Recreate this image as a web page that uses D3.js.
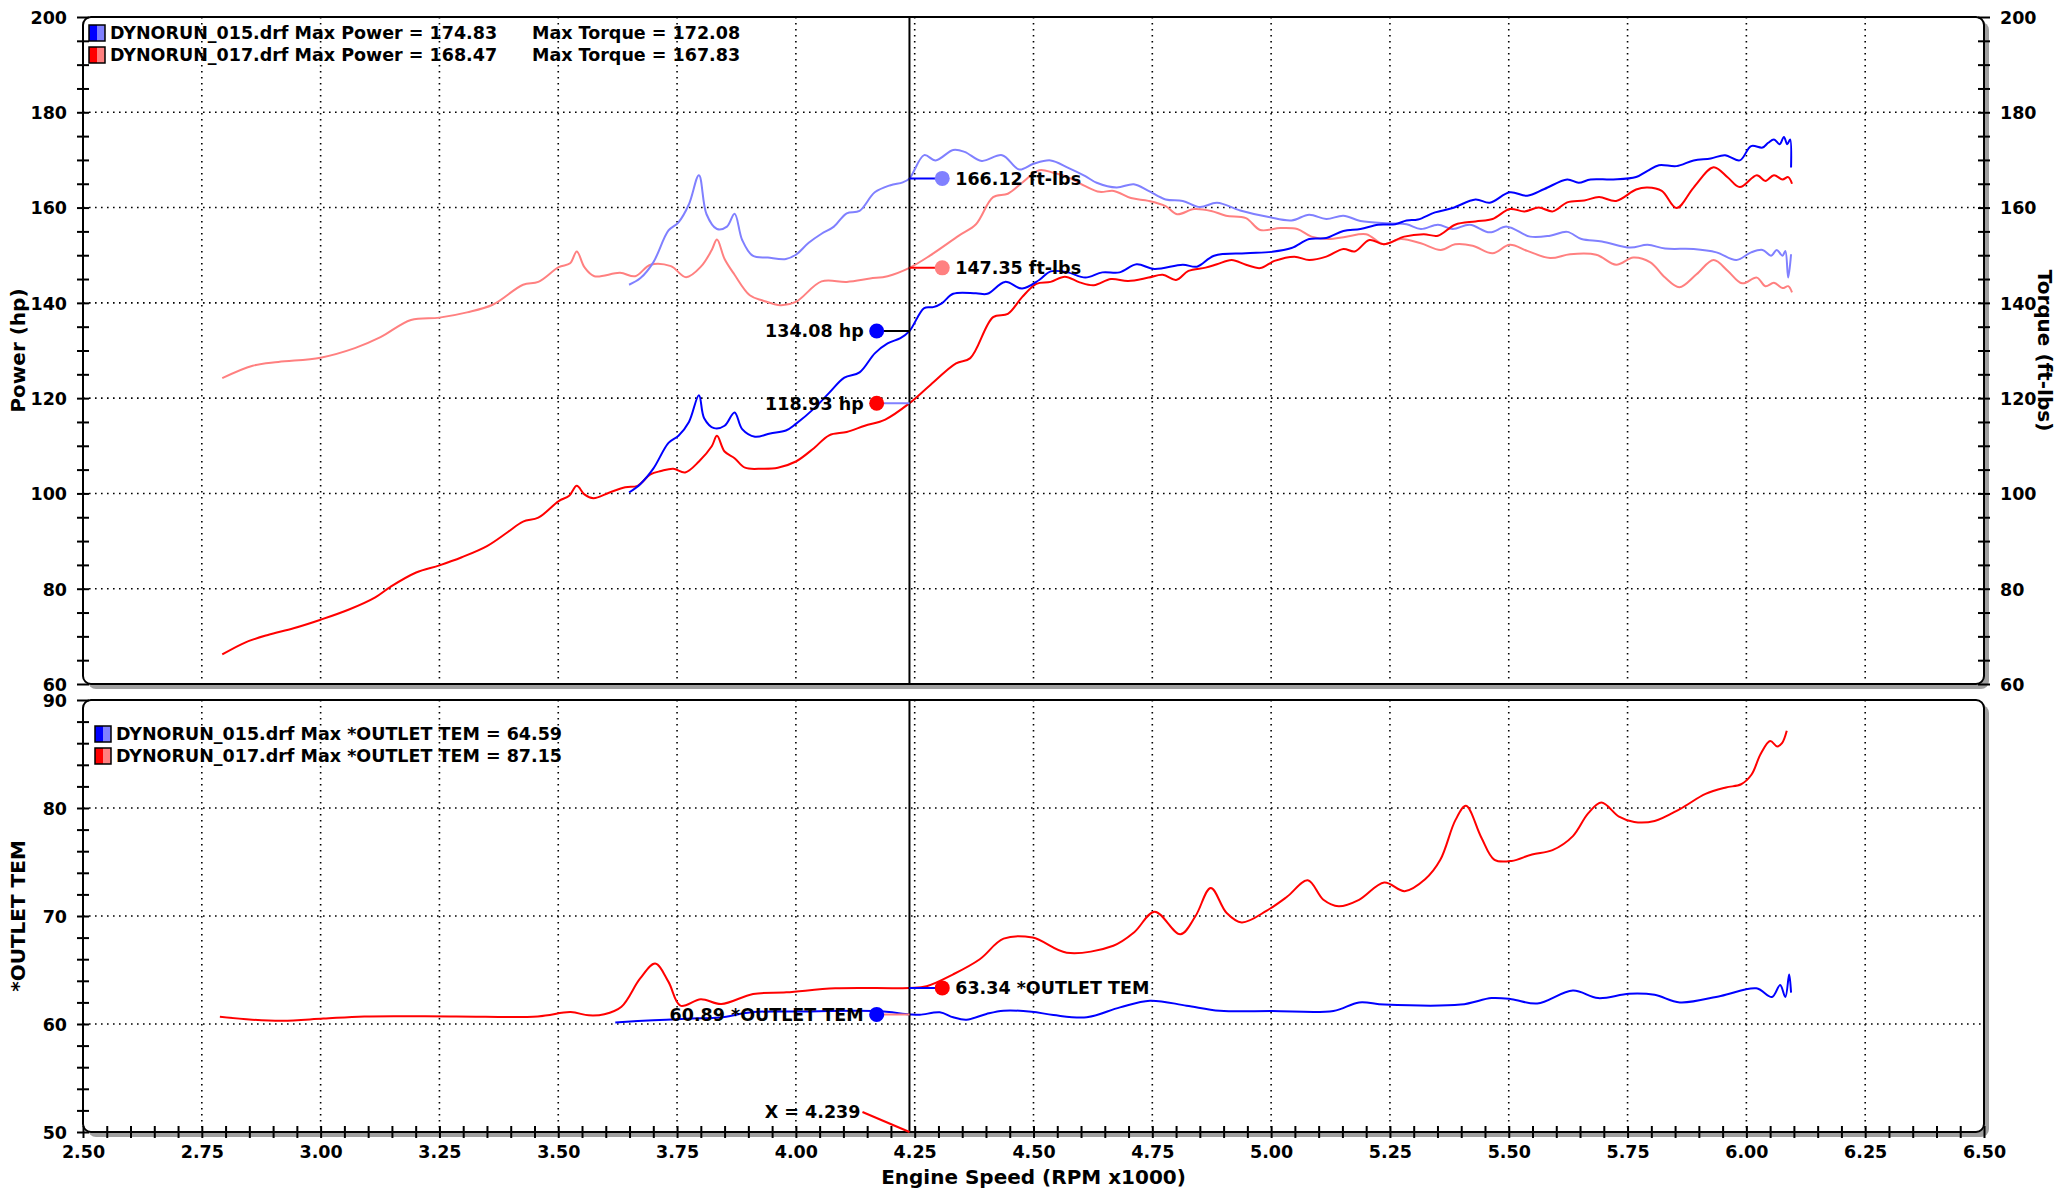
<!DOCTYPE html>
<html>
<head>
<meta charset="utf-8">
<script src="https://cdn.jsdelivr.net/npm/d3@7"></script>
<style>
  body { margin: 0; background: #fff; }
  text { font-family: "DejaVu Sans", Verdana, sans-serif; font-weight: bold; fill: #000; }
</style>
</head>
<body>
<svg id="chart"></svg>
<script>
// ---- data (rpm x1000, value) ----
const power015 = [[3.649,100.2],[3.673,102.0],[3.7,105.2],[3.732,110.6],[3.753,112.1],[3.775,115.0],[3.796,120.6],[3.807,115.8],[3.828,113.7],[3.85,114.2],[3.871,117.0],[3.887,113.5],[3.914,111.9],[3.946,112.6],[3.979,113.2],[4.0,114.6],[4.038,117.8],[4.07,121.1],[4.102,124.3],[4.134,125.4],[4.166,129.4],[4.193,131.5],[4.22,132.6],[4.239,134.08],[4.27,138.9],[4.289,139.1],[4.307,139.9],[4.331,141.9],[4.379,142.0],[4.403,141.9],[4.44,144.4],[4.476,143.0],[4.512,144.8],[4.536,146.6],[4.572,146.4],[4.609,145.3],[4.645,146.4],[4.681,146.4],[4.717,148.1],[4.754,147.1],[4.814,148.0],[4.844,147.6],[4.88,149.9],[4.947,150.4],[5.001,150.7],[5.043,151.5],[5.08,153.4],[5.116,153.6],[5.152,155.1],[5.188,155.5],[5.225,156.4],[5.261,156.5],[5.285,157.3],[5.309,157.5],[5.345,159.0],[5.382,159.9],[5.43,161.7],[5.46,161.0],[5.502,163.2],[5.539,162.5],[5.575,163.9],[5.623,165.9],[5.647,165.2],[5.672,165.9],[5.72,165.9],[5.768,166.4],[5.792,167.7],[5.816,168.9],[5.853,168.7],[5.889,169.9],[5.925,170.3],[5.955,171.0],[5.986,169.9],[6.01,172.9],[6.034,172.6],[6.046,173.6],[6.058,174.3],[6.07,173.3],[6.079,174.83],[6.086,173.3],[6.092,174.3],[6.094,168.4]];

const torque015 = [[3.649,143.8],[3.673,145.2],[3.7,148.5],[3.732,155.2],[3.753,156.9],[3.775,160.7],[3.796,166.8],[3.812,158.6],[3.834,155.5],[3.855,156.0],[3.871,158.7],[3.887,153.2],[3.909,149.9],[3.941,149.5],[3.979,149.2],[4.0,150.1],[4.027,152.6],[4.054,154.5],[4.08,156.0],[4.107,158.8],[4.134,159.3],[4.166,163.2],[4.199,164.7],[4.225,165.3],[4.239,166.12],[4.27,171.0],[4.294,169.9],[4.331,172.08],[4.355,171.7],[4.391,169.8],[4.434,171.0],[4.47,168.0],[4.5,169.2],[4.536,169.9],[4.572,168.4],[4.609,166.6],[4.633,165.2],[4.675,164.2],[4.711,164.9],[4.742,163.5],[4.778,161.7],[4.814,161.4],[4.85,160.1],[4.886,161.0],[4.935,159.4],[4.995,158.0],[5.043,157.3],[5.08,158.5],[5.116,157.6],[5.152,158.3],[5.188,157.2],[5.249,156.7],[5.285,156.5],[5.315,155.5],[5.351,156.4],[5.382,155.5],[5.418,156.4],[5.46,154.8],[5.496,156.0],[5.545,153.9],[5.587,154.1],[5.623,154.9],[5.653,153.4],[5.696,152.9],[5.756,151.6],[5.792,152.2],[5.829,151.4],[5.889,151.3],[5.937,150.6],[5.979,149.0],[6.01,150.6],[6.034,151.1],[6.052,149.9],[6.064,151.1],[6.076,149.9],[6.082,150.9],[6.088,145.3],[6.094,150.2]];

const power017 = [[2.793,66.2],[2.841,68.7],[2.889,70.3],[2.943,71.7],[3.0,73.5],[3.061,75.7],[3.115,78.2],[3.147,80.4],[3.201,83.4],[3.25,84.9],[3.297,86.6],[3.351,89.0],[3.394,91.9],[3.426,94.1],[3.458,94.9],[3.501,98.4],[3.523,99.5],[3.539,101.6],[3.555,99.8],[3.574,99.0],[3.608,100.2],[3.641,101.3],[3.667,101.6],[3.694,104.0],[3.716,104.7],[3.742,105.2],[3.767,104.4],[3.796,106.7],[3.823,109.9],[3.834,112.1],[3.85,108.8],[3.871,107.4],[3.893,105.4],[3.93,105.2],[3.962,105.4],[4.0,106.7],[4.038,109.5],[4.07,112.2],[4.107,112.9],[4.145,114.2],[4.188,115.5],[4.239,118.93],[4.28,122.5],[4.337,127.3],[4.367,128.4],[4.415,137.0],[4.446,137.7],[4.476,141.2],[4.506,144.0],[4.536,144.4],[4.566,145.5],[4.597,144.3],[4.627,143.7],[4.663,145.0],[4.699,144.6],[4.742,145.3],[4.772,145.9],[4.8,144.8],[4.826,146.7],[4.862,147.4],[4.886,148.1],[4.917,149.0],[4.947,148.0],[4.977,147.3],[5.007,148.8],[5.049,149.7],[5.08,149.0],[5.116,149.7],[5.152,151.3],[5.176,150.8],[5.207,153.2],[5.237,152.3],[5.28,153.9],[5.321,154.4],[5.351,154.1],[5.387,156.4],[5.43,157.1],[5.466,157.6],[5.502,159.7],[5.533,159.2],[5.563,160.0],[5.593,159.2],[5.623,161.1],[5.659,161.5],[5.69,162.2],[5.726,161.4],[5.768,163.8],[5.792,164.2],[5.822,163.5],[5.853,159.9],[5.889,164.2],[5.931,168.47],[5.961,166.3],[5.986,164.3],[6.022,166.8],[6.04,165.6],[6.058,166.8],[6.076,165.9],[6.088,166.4],[6.096,165.0]];

const torque017 = [[2.793,124.2],[2.857,126.8],[2.911,127.6],[3.0,128.5],[3.072,130.5],[3.126,132.8],[3.19,136.4],[3.25,136.9],[3.308,138.0],[3.362,139.6],[3.426,143.8],[3.458,144.4],[3.501,147.5],[3.525,148.3],[3.539,150.8],[3.555,147.5],[3.576,145.6],[3.63,146.3],[3.662,145.6],[3.694,148.0],[3.737,147.7],[3.769,145.4],[3.801,147.7],[3.823,151.1],[3.834,153.3],[3.85,149.2],[3.871,145.9],[3.903,141.6],[3.93,140.5],[3.968,139.5],[4.0,140.2],[4.054,144.5],[4.107,144.4],[4.156,145.1],[4.193,145.6],[4.239,147.35],[4.282,149.9],[4.343,154.1],[4.379,156.5],[4.415,162.2],[4.446,162.9],[4.476,165.2],[4.512,167.83],[4.542,167.3],[4.572,166.4],[4.609,164.5],[4.639,163.3],[4.669,163.5],[4.705,162.0],[4.742,161.4],[4.778,160.3],[4.802,158.6],[4.838,159.7],[4.874,159.3],[4.905,158.3],[4.947,157.8],[4.977,155.3],[5.019,155.7],[5.055,155.5],[5.085,153.9],[5.121,153.4],[5.158,153.9],[5.2,154.4],[5.237,152.3],[5.273,153.4],[5.315,152.5],[5.357,151.1],[5.387,152.3],[5.424,152.0],[5.466,150.4],[5.502,152.2],[5.539,150.9],[5.587,149.4],[5.629,150.2],[5.684,150.1],[5.726,148.0],[5.762,149.5],[5.798,148.5],[5.829,145.3],[5.859,143.3],[5.895,146.0],[5.931,149.0],[5.961,146.7],[5.991,144.1],[6.022,145.3],[6.04,143.5],[6.058,144.2],[6.076,143.1],[6.088,143.5],[6.096,142.2]];

const outlet015 = [[3.62,60.15],[3.7,60.35],[3.78,60.5],[3.84,60.6],[3.91,61.1],[4.0,61.15],[4.17,61.2],[4.239,60.89],[4.261,60.85],[4.303,61.08],[4.331,60.62],[4.359,60.4],[4.401,60.93],[4.437,61.23],[4.496,61.14],[4.542,60.83],[4.612,60.62],[4.682,61.54],[4.745,62.16],[4.822,61.7],[4.892,61.23],[5.002,61.2],[5.131,61.2],[5.185,62.0],[5.238,61.8],[5.399,61.8],[5.464,62.4],[5.506,62.3],[5.56,61.9],[5.635,63.1],[5.688,62.4],[5.753,62.8],[5.807,62.7],[5.86,62.0],[5.946,62.6],[6.021,63.3],[6.054,62.5],[6.071,63.6],[6.082,62.5],[6.09,64.59],[6.094,62.9]];

const outlet017 = [[2.788,60.67],[2.856,60.4],[2.92,60.3],[3.006,60.5],[3.092,60.7],[3.285,60.7],[3.457,60.7],[3.526,61.1],[3.564,60.8],[3.597,60.9],[3.633,61.6],[3.672,64.2],[3.704,65.6],[3.732,63.9],[3.757,61.7],[3.8,62.3],[3.843,61.85],[3.91,62.78],[3.98,62.93],[4.083,63.3],[4.239,63.34],[4.275,63.5],[4.331,64.6],[4.387,66.0],[4.437,67.9],[4.498,68.0],[4.57,66.6],[4.668,67.25],[4.712,68.5],[4.755,70.4],[4.809,68.3],[4.841,70.0],[4.873,72.6],[4.906,70.3],[4.938,69.4],[4.991,70.5],[5.034,71.8],[5.077,73.3],[5.11,71.5],[5.142,70.9],[5.185,71.5],[5.238,73.1],[5.281,72.3],[5.324,73.4],[5.356,75.2],[5.388,78.9],[5.41,80.2],[5.442,77.3],[5.47,75.2],[5.506,75.1],[5.549,75.7],[5.592,76.1],[5.635,77.4],[5.667,79.5],[5.695,80.5],[5.732,79.2],[5.764,78.7],[5.807,78.8],[5.86,79.9],[5.914,81.3],[5.957,81.9],[5.989,82.2],[6.011,83.1],[6.03,85.0],[6.05,86.2],[6.065,85.7],[6.075,86.0],[6.085,87.15]];

const legendTop = ["DYNORUN_015.drf Max Power = 174.83", "DYNORUN_017.drf Max Power = 168.47"];
const legendTopTorque = ["Max Torque = 172.08", "Max Torque = 167.83"];
const legendBottom = ["DYNORUN_015.drf Max *OUTLET TEM = 64.59", "DYNORUN_017.drf Max *OUTLET TEM = 87.15"];

const cursorRpm = 4.239;
const rpmMajor = d3.range(10, 27).map((i) => i * 0.25);
const rpmMinor = d3.range(50, 131).map((i) => +(i * 0.05).toFixed(2));
const hpMajor = [60, 80, 100, 120, 140, 160, 180, 200];
const hpMinor = d3.range(60, 201, 5);
const tempMajor = [50, 60, 70, 80, 90];
const tempMinor = d3.range(50, 91, 2);

const blue = "#0000ff", lightBlue = "#8080ff", red = "#ff0000", lightRed = "#ff8080";

// ---- layout ----
const width = 2059, height = 1190;
const svg = d3.select("#chart").attr("width", width).attr("height", height);

const x = d3.scaleLinear().domain([2.5, 6.5]).range([83, 1984]);
const yTop = d3.scaleLinear().domain([60, 200]).range([684, 17]);
const yBot = d3.scaleLinear().domain([50, 90]).range([1132, 700]);

const fontSize = "17.5px";

function panel(y) {
  let [y1, y0] = y.range();
  let [x0, x1] = x.range();
  svg.append("rect")
    .attr("x", x0 + 5).attr("y", y0 + 5)
    .attr("width", x1 - x0).attr("height", y1 - y0)
    .attr("rx", 8).attr("fill", "#a0a0a0");
  svg.append("rect")
    .attr("x", x0).attr("y", y0)
    .attr("width", x1 - x0).attr("height", y1 - y0)
    .attr("rx", 8).attr("fill", "#fff");
}

function grid(y, values) {
  let g = svg.append("g")
    .attr("stroke", "#000").attr("stroke-width", 1.6)
    .attr("stroke-dasharray", "1.6,4.4");
  g.selectAll(".v").data(rpmMajor.slice(1, -1)).join("line")
    .attr("x1", (d) => x(d)).attr("x2", (d) => x(d))
    .attr("y1", y.range()[1]).attr("y2", y.range()[0]);
  g.selectAll(".h").data(values).join("line")
    .attr("x1", x.range()[0]).attr("x2", x.range()[1])
    .attr("y1", (d) => y(d)).attr("y2", (d) => y(d));
}

function frame(y) {
  let [y1, y0] = y.range();
  let [x0, x1] = x.range();
  svg.append("rect")
    .attr("x", x0).attr("y", y0)
    .attr("width", x1 - x0).attr("height", y1 - y0)
    .attr("rx", 8).attr("fill", "none")
    .attr("stroke", "#000").attr("stroke-width", 2);
}

function styleAxis(g) {
  g.attr("font-family", null).attr("font-size", null);
  g.select(".domain").remove();
  g.selectAll(".tick line").attr("stroke", "#000").attr("stroke-width", 2);
  g.selectAll(".tick text").style("font-size", fontSize);
}

function vAxis(y, major, minor, side) {
  let ax = side === "left" ? d3.axisLeft(y) : d3.axisRight(y);
  let g = svg.append("g")
    .attr("transform", `translate(${side === "left" ? x.range()[0] : x.range()[1]},0)`)
    .call(ax.tickValues(minor).tickSize(6).tickPadding(10)
      .tickFormat((d) => (major.includes(d) ? d : "")));
  styleAxis(g);
  g.selectAll(".tick line").attr("x1", side === "left" ? 6 : -6);
  g.selectAll(".tick text").attr("dy", "0.36em");
}

const line = (y) => d3.line()
  .x((d) => x(d[0]))
  .y((d) => y(d[1]))
  .curve(d3.curveCatmullRom.alpha(0.5));

function curve(data, y, color) {
  svg.append("path")
    .datum(data)
    .attr("fill", "none")
    .attr("stroke", color)
    .attr("stroke-width", 2)
    .attr("stroke-linejoin", "round")
    .attr("d", line(y));
}

function legend(rows, extra, left, top) {
  let colors = [[blue, lightBlue], [red, lightRed]];
  rows.forEach((label, i) => {
    let cy = top + i * 22;
    svg.append("rect").attr("x", left).attr("y", cy - 8)
      .attr("width", 8).attr("height", 16).attr("fill", colors[i][0]);
    svg.append("rect").attr("x", left + 8).attr("y", cy - 8)
      .attr("width", 8).attr("height", 16).attr("fill", colors[i][1]);
    svg.append("rect").attr("x", left).attr("y", cy - 8)
      .attr("width", 16).attr("height", 16)
      .attr("fill", "none").attr("stroke", "#000").attr("stroke-width", 1.5);
    svg.append("text").attr("x", left + 21).attr("y", cy)
      .attr("dy", "0.36em").style("font-size", fontSize).text(label);
    if (extra) {
      svg.append("text").attr("x", 532).attr("y", cy)
        .attr("dy", "0.36em").style("font-size", fontSize).text(extra[i]);
    }
  });
}

// ---- top panel: power & torque ----
panel(yTop);
grid(yTop, [80, 100, 120, 140, 160, 180]);
curve(torque017, yTop, lightRed);
curve(torque015, yTop, lightBlue);
curve(power017, yTop, red);
curve(power015, yTop, blue);
frame(yTop);
vAxis(yTop, hpMajor, hpMinor, "left");
vAxis(yTop, hpMajor, hpMinor, "right");
legend(legendTop, legendTopTorque, 89, 33);

// ---- bottom panel: outlet temperature ----
panel(yBot);
grid(yBot, [60, 70, 80]);
curve(outlet017, yBot, red);
curve(outlet015, yBot, blue);
frame(yBot);
vAxis(yBot, tempMajor, tempMinor, "left");
legend(legendBottom, null, 95, 734);

let gx = svg.append("g")
  .attr("transform", `translate(0,${yBot.range()[0]})`)
  .call(d3.axisBottom(x).tickValues(rpmMinor).tickSize(6).tickPadding(8)
    .tickFormat((d) => (Math.abs(d / 0.25 - Math.round(d / 0.25)) < 1e-6 ? d3.format(".2f")(d) : "")));
styleAxis(gx);
gx.selectAll(".tick line").attr("y1", -6);

// ---- cursor and readouts ----
const xc = x(cursorRpm);
[yTop, yBot].forEach((y) => {
  svg.append("line")
    .attr("x1", xc).attr("x2", xc)
    .attr("y1", y.range()[1]).attr("y2", y.range()[0])
    .attr("stroke", "#000").attr("stroke-width", 2);
});

const readouts = [
  { y: yTop, value: 166.12, side: "right", dot: lightBlue, lead: blue, label: "166.12 ft-lbs" },
  { y: yTop, value: 147.35, side: "right", dot: lightRed, lead: red, label: "147.35 ft-lbs" },
  { y: yTop, value: 134.08, side: "left", dot: blue, lead: "#000", label: "134.08 hp" },
  { y: yTop, value: 118.93, side: "left", dot: red, lead: lightBlue, label: "118.93 hp" },
  { y: yBot, value: 63.34, side: "right", dot: red, lead: blue, label: "63.34 *OUTLET TEM" },
  { y: yBot, value: 60.89, side: "left", dot: blue, lead: lightRed, label: "60.89 *OUTLET TEM" },
];

readouts.forEach((r) => {
  let cx = r.side === "right" ? x(4.308) : x(4.170);
  let cy = r.y(r.value);
  svg.append("line").attr("x1", xc).attr("x2", cx).attr("y1", cy).attr("y2", cy)
    .attr("stroke", r.lead).attr("stroke-width", 2);
  svg.append("circle").attr("cx", cx).attr("cy", cy).attr("r", 7.5).attr("fill", r.dot);
  svg.append("text")
    .attr("x", r.side === "right" ? cx + 13 : cx - 13)
    .attr("y", cy).attr("dy", "0.36em")
    .attr("text-anchor", r.side === "right" ? "start" : "end")
    .style("font-size", fontSize)
    .text(r.label);
});

// x readout
const xLabelY = yBot(51.85);
svg.append("line")
  .attr("x1", xc - 47).attr("y1", xLabelY)
  .attr("x2", xc).attr("y2", yBot.range()[0])
  .attr("stroke", red).attr("stroke-width", 2);
svg.append("text")
  .attr("x", xc - 49).attr("y", xLabelY).attr("dy", "0.36em")
  .attr("text-anchor", "end").style("font-size", fontSize)
  .text(`X = ${cursorRpm}`);

// ---- axis titles ----
svg.append("text")
  .attr("transform", `translate(25,${(yTop.range()[0] + yTop.range()[1]) / 2}) rotate(-90)`)
  .attr("text-anchor", "middle").style("font-size", "20px").text("Power (hp)");
svg.append("text")
  .attr("transform", `translate(2038,${(yTop.range()[0] + yTop.range()[1]) / 2}) rotate(90)`)
  .attr("text-anchor", "middle").style("font-size", "20px").text("Torque (ft-lbs)");
svg.append("text")
  .attr("transform", `translate(25,${(yBot.range()[0] + yBot.range()[1]) / 2}) rotate(-90)`)
  .attr("text-anchor", "middle").style("font-size", "20px").text("*OUTLET TEM");
svg.append("text")
  .attr("x", (x.range()[0] + x.range()[1]) / 2).attr("y", 1184)
  .attr("text-anchor", "middle").style("font-size", "20px").text("Engine Speed (RPM x1000)");
</script>
</body>
</html>
